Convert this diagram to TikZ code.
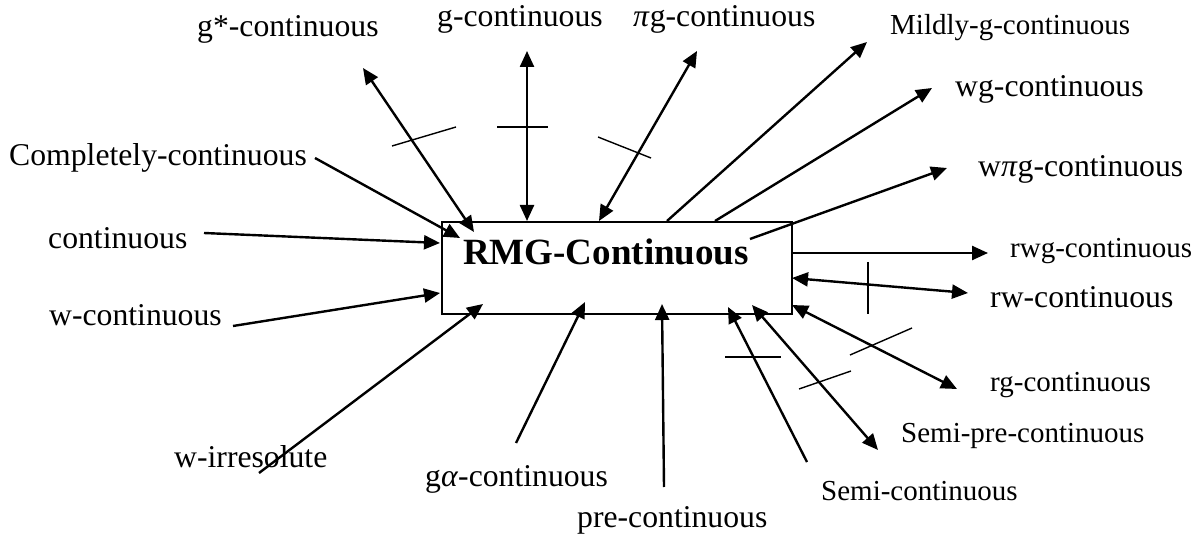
\documentclass[tikz,border=0pt]{standalone}
\usepackage{fontspec}
\setmainfont{Liberation Serif}
\usetikzlibrary{arrows.meta}
\tikzset{
  lbl/.style={anchor=base west, inner sep=0pt, font=\fontsize{31.7}{36}\selectfont},
  lbls/.style={anchor=base west, inner sep=0pt, font=\fontsize{29}{33}\selectfont},
  conn/.style={line width=2.4pt, -{Triangle[length=16pt,width=14pt]}},
  conntwo/.style={line width=2.4pt, {Triangle[length=16pt,width=14pt]}-{Triangle[length=16pt,width=14pt]}},
  tickline/.style={line width=1.4pt},
  boxst/.style={draw, line width=1.7pt, anchor=north west, minimum width=350pt, minimum height=92pt, inner sep=0pt},
}
\begin{document}
\begin{tikzpicture}[x=1pt,y=-1pt]
\useasboundingbox (0,0) rectangle (1204,534);
% labels
\node[lbl] (gstar) at (197,37) {g*-continuous};
\node[lbl] (g) at (437,27) {g-continuous};
\node[lbl] (pig) at (633,27) {\textit{π}g-continuous};
\node[lbls] (mild) at (890,35) {Mildly-g-continuous};
\node[lbl] (wg) at (955,97) {wg-continuous};
\node[lbl] (wpig) at (978,177) {w\textit{π}g-continuous};
\node[lbl] (comp) at (9,166) {Completely-continuous};
\node[lbl] (cont) at (48,249) {continuous};
\node[lbl] (wcont) at (49,326) {w-continuous};
\node[lbl] (wirr) at (174,467) {w-irresolute};
\node[lbl] (galpha) at (425,486) {g\textit{α}-continuous};
\node[lbl] (pre) at (577,527) {pre-continuous};
\node[lbls] (semi) at (821,500) {Semi-continuous};
\node[lbls] (semipre) at (901,442) {Semi-pre-continuous};
\node[lbls] (rg) at (990,391) {rg-continuous};
\node[lbl] (rw) at (990,308) {rw-continuous};
\node[lbls] (rwg) at (1010,258) {rwg-continuous};
% box
\node[boxst] (rmg) at (441,221) {};
\node[anchor=base west, inner sep=0pt, font=\bfseries\fontsize{37}{40}\selectfont] (rmgtext) at (463,265) {RMG-Continuous};
% coordinates
\coordinate (gsA) at (363,68);   \coordinate (gsB) at (474,232);
\coordinate (gA) at (527,51);    \coordinate (gB) at (527,221);
\coordinate (pgA) at (697,51);   \coordinate (pgB) at (599,221);
\coordinate (cpA) at (315,158);  \coordinate (cpB) at (460,238);
\coordinate (ctA) at (204,233);  \coordinate (ctB) at (440,243);
\coordinate (wcA) at (233,326);  \coordinate (wcB) at (440,293);
\coordinate (wiA) at (259,473);  \coordinate (wiB) at (483,304);
\coordinate (gaA) at (516,443);  \coordinate (gaB) at (585,302);
\coordinate (prA) at (664,487);  \coordinate (prB) at (662,304);
\coordinate (smA) at (807,462);  \coordinate (smB) at (728,307);
\coordinate (spA) at (752,305);  \coordinate (spB) at (878,450);
\coordinate (rgA) at (792,305);  \coordinate (rgB) at (957,389);
\coordinate (rwA) at (792,278);  \coordinate (rwB) at (968,293);
\coordinate (rwgA) at (791,253); \coordinate (rwgB) at (988,253);
\coordinate (wpA) at (750,239);  \coordinate (wpB) at (947,168);
\coordinate (wgA) at (715,221);  \coordinate (wgB) at (932,88);
\coordinate (mlA) at (667,221);  \coordinate (mlB) at (867,42);
% connectors
\draw[conntwo] (gsA) -- (gsB);
\draw[conntwo] (gA) -- (gB);
\draw[conntwo] (pgA) -- (pgB);
\draw[conn] (cpA) -- (cpB);
\draw[conn] (ctA) -- (ctB);
\draw[conn] (wcA) -- (wcB);
\draw[conn] (wiA) -- (wiB);
\draw[conn] (gaA) -- (gaB);
\draw[conn] (prA) -- (prB);
\draw[conn] (smA) -- (smB);
\draw[conntwo] (spA) -- (spB);
\draw[conntwo] (rgA) -- (rgB);
\draw[conntwo] (rwA) -- (rwB);
\draw[conn] (rwgA) -- (rwgB);
\draw[conn] (wpA) -- (wpB);
\draw[conn] (wgA) -- (wgB);
\draw[conn] (mlA) -- (mlB);
% negation ticks
\coordinate (t1a) at (392,146); \coordinate (t1b) at (456,127);
\coordinate (t2a) at (497,127); \coordinate (t2b) at (548,127);
\coordinate (t3a) at (598,137); \coordinate (t3b) at (651,158);
\coordinate (t4a) at (868,262); \coordinate (t4b) at (868,314);
\coordinate (t5a) at (850,355); \coordinate (t5b) at (912,328);
\coordinate (t6a) at (799,389); \coordinate (t6b) at (851,371);
\coordinate (t7a) at (725,357); \coordinate (t7b) at (781,357);
\draw[tickline] (t1a) -- (t1b);
\draw[tickline] (t2a) -- (t2b);
\draw[tickline] (t3a) -- (t3b);
\draw[tickline] (t4a) -- (t4b);
\draw[tickline] (t5a) -- (t5b);
\draw[tickline] (t6a) -- (t6b);
\draw[tickline] (t7a) -- (t7b);
\end{tikzpicture}
\end{document}
